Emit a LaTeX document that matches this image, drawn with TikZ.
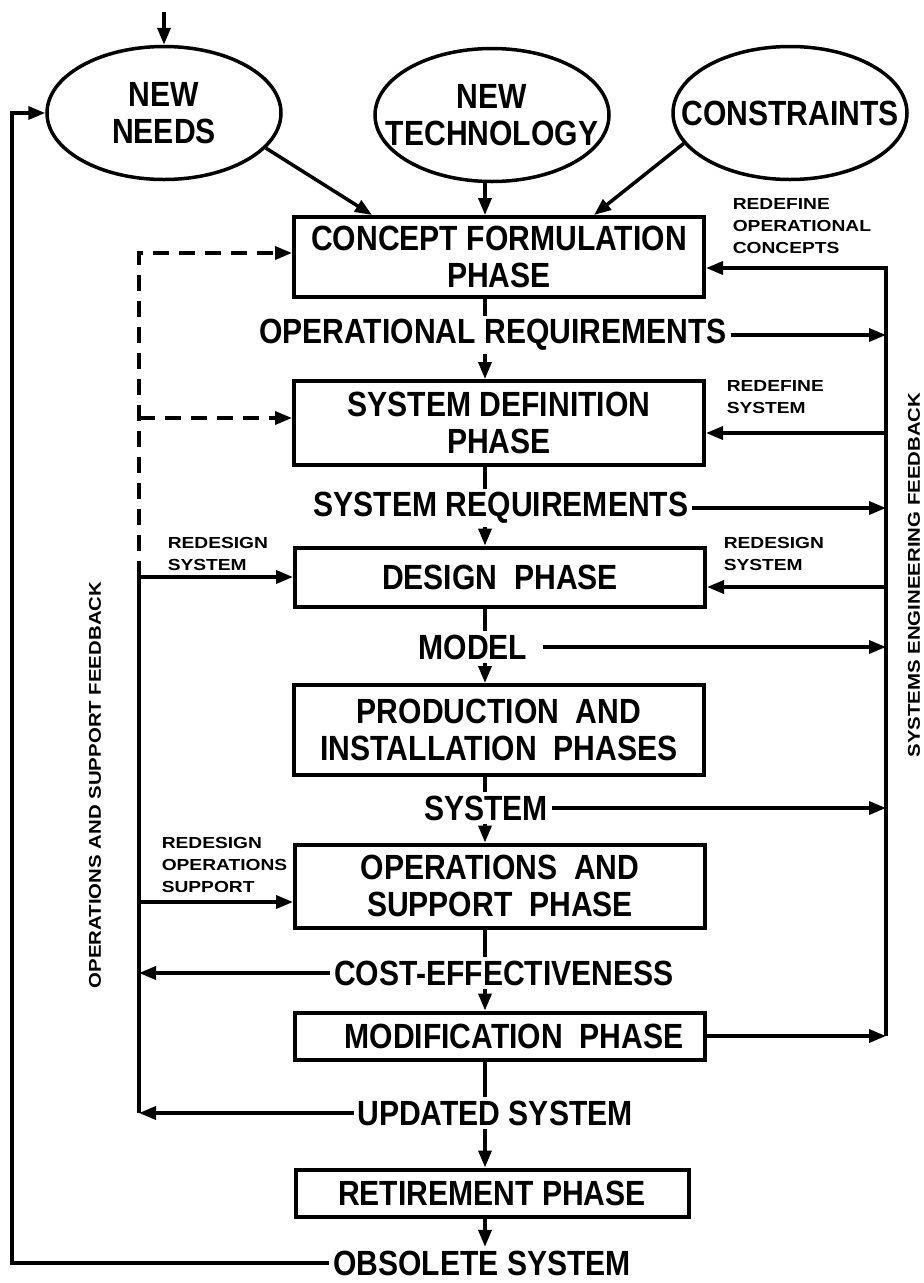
\documentclass[tikz,border=0pt]{standalone}
\usepackage{fontspec}
\setmainfont[FakeStretch=0.86]{Liberation Sans}
\newfontfamily\tagfamily[FakeStretch=1.2]{Liberation Sans}
\usepackage{tikz}
\usetikzlibrary{arrows.meta, positioning, shapes.geometric}
\newcommand{\phasefont}{\fontsize{35}{37}\selectfont\bfseries}
\newcommand{\tagsmall}{\tagfamily\fontsize{16}{22}\selectfont\bfseries}
\newcommand{\sidefont}{\tagfamily\fontsize{17}{20}\selectfont\bfseries}

\begin{document}
\begin{tikzpicture}[x=1pt, y=-1pt, line width=3.5pt,
  phasebox/.style={draw, line width=4pt, minimum width=410pt, inner sep=0pt, align=center, font=\phasefont},
  sourceoval/.style={ellipse, draw, minimum width=234pt, minimum height=133pt, inner xsep=-30pt, inner ysep=0pt, align=center, font=\phasefont},
  flowtext/.style={inner sep=2pt, font=\phasefont},
  tagtext/.style={inner sep=0pt, align=left, anchor=west, font=\tagsmall},
  arr/.style={-{Triangle[length=17pt,width=13pt]}},
  dashfb/.style={dash pattern=on 16pt off 10pt}]
\useasboundingbox (0,0) rectangle (924,1283);
\coordinate (spine) at (485,0);
\coordinate (entry) at (164,12);
\coordinate (outer) at (12,0);
\coordinate (rs) at (886,268);
\coordinate (ls) at (139,253);

% inputs
\node[sourceoval] (nn) at (164,113) {NEW\\NEEDS};
\node[sourceoval] (nt) at (492,115) {NEW\\TECHNOLOGY};
\node[sourceoval] (co) at (790,113) {CONSTRAINTS};

% phases
\node[phasebox, minimum height=80pt] (cf) at (499,257) {CONCEPT FORMULATION\\PHASE};
\node[phasebox, minimum height=84pt] (sd) at (499,423) {SYSTEM DEFINITION\\PHASE};
\node[phasebox, minimum height=59pt] (dp) at (500,577) {DESIGN \ PHASE};
\node[phasebox, minimum height=90pt] (pi) at (499,730) {PRODUCTION \ AND\\INSTALLATION \ PHASES};
\node[phasebox, minimum height=83pt] (os) at (500,886) {OPERATIONS \ AND\\SUPPORT \ PHASE};
\node[phasebox, minimum height=47pt] (mp) at (500,1036) {\hspace{28pt}MODIFICATION \ PHASE};
\node[phasebox, minimum width=393pt, minimum height=47pt] (rp) at (492,1193) {RETIREMENT PHASE};

% what flows between phases
\node[flowtext] (opreq) at (493,335) {OPERATIONAL REQUIREMENTS};
\node[flowtext] (sysreq) at (501,508) {SYSTEM REQUIREMENTS};
\node[flowtext] (model) at (473,647) {MODEL};
\node[flowtext] (sysout) at (486,808) {SYSTEM};
\node[flowtext] (cost) at (504,973) {COST-EFFECTIVENESS};
\node[flowtext] (upd) at (495,1113) {UPDATED SYSTEM};
\node[flowtext] (obs) at (482,1263) {OBSOLETE SYSTEM};

% small feedback labels
\node[tagtext] (redoc) at (731,226) {REDEFINE\\OPERATIONAL\\CONCEPTS};
\node[tagtext] (redsys) at (725,397) {REDEFINE\\SYSTEM};
\node[tagtext] (redsgnr) at (722,554) {REDESIGN\\SYSTEM};
\node[tagtext] (redsgnl) at (166,554) {REDESIGN\\SYSTEM};
\node[tagtext] (redops) at (160,865) {REDESIGN\\OPERATIONS\\SUPPORT};
\node[rotate=90, font=\sidefont] (sefb) at (914,575) {SYSTEMS ENGINEERING FEEDBACK};
\node[rotate=90, font=\sidefont] (osfb) at (95,785) {OPERATIONS AND SUPPORT FEEDBACK};

% inputs into concept formulation
\draw[arr] (entry) -- (nn.north);
\draw[arr] (nn.-19) -- ([xshift=80pt]cf.north west);
\draw[arr] (nt.south -| spine) -- (spine |- cf.north);
\draw[arr] (co.196) -- ([xshift=-112pt]cf.north east);

% main chain
\draw (cf.south -| spine) -- (spine |- opreq.north);
\draw[arr] (spine |- opreq.south) -- (spine |- sd.north);
\draw (sd.south -| spine) -- (spine |- sysreq.north);
\draw[arr] (spine |- sysreq.south) -- (spine |- dp.north);
\draw (dp.south -| spine) -- (spine |- model.north);
\draw[arr] (spine |- model.south) -- (spine |- pi.north);
\draw (pi.south -| spine) -- (spine |- sysout.north);
\draw[arr] (spine |- sysout.south) -- (spine |- os.north);
\draw (os.south -| spine) -- (spine |- cost.north);
\draw[arr] (spine |- cost.south) -- (spine |- mp.north);
\draw (mp.south -| spine) -- (spine |- upd.north);
\draw[arr] (spine |- upd.south) -- (spine |- rp.north);
\draw[arr] (spine |- rp.south) -- (spine |- obs.north);

% systems engineering feedback
\draw[arr] (rs |- mp.east) -- (rs) -- (rs -| cf.east);
\draw[arr] ([yshift=-10pt]sd.east -| rs) -- ([yshift=-10pt]sd.east);
\draw[arr] ([yshift=-10pt]dp.east -| rs) -- ([yshift=-10pt]dp.east);
\draw[arr] (opreq.east) -- (opreq.east -| rs);
\draw[arr] (sysreq.east) -- (sysreq.east -| rs);
\draw[arr] ([xshift=12pt]model.east) -- (model.east -| rs);
\draw[arr] (sysout.east) -- (sysout.east -| rs);
\draw[arr] (mp.east) -- (mp.east -| rs);

% operations and support feedback
\draw[dashfb, arr] (ls |- dp.west) -- (ls) -- ([yshift=4pt]cf.west);
\draw[dashfb, arr] ([yshift=5pt]sd.west -| ls) -- ([yshift=5pt]sd.west);
\draw (ls |- dp.west) -- (ls |- upd.west);
\draw[arr] (ls |- dp.west) -- (dp.west);
\draw[arr] ([yshift=-16pt]os.west -| ls) -- ([yshift=-16pt]os.west);
\draw[arr] (cost.west) -- (cost.west -| ls);
\draw[arr] (upd.west) -- (upd.west -| ls);

% retirement loop
\draw[arr] (obs.west) -- (obs.west -| outer) |- (nn.west);
\end{tikzpicture}
\end{document}
